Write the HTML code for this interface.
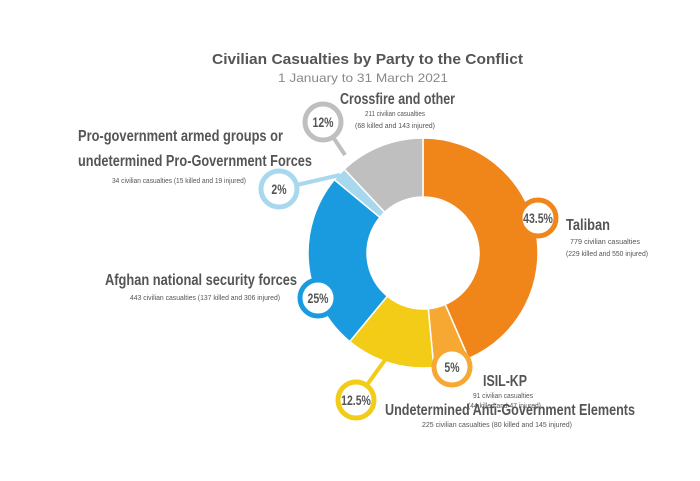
<!DOCTYPE html>
<html><head><meta charset="utf-8"><style>
body{margin:0;background:#fff;}
svg text{font-family:"Liberation Sans",sans-serif;fill:#555;}
</style></head><body>
<svg width="700" height="476" viewBox="0 0 700 476">
<text x="212" y="64" textLength="311" lengthAdjust="spacingAndGlyphs" font-size="15" font-weight="bold">Civilian Casualties by Party to the Conflict</text>
<text x="278" y="82" textLength="170" lengthAdjust="spacingAndGlyphs" font-size="12" style="fill:#888">1 January to 31 March 2021</text>
<g id="slices"></g>
<g id="callouts"></g>
</svg>
<script>
const categories=["Taliban","ISIL-KP","Undetermined Anti-Government Elements","Afghan national security forces","Pro-government armed groups or undetermined Pro-Government Forces","Crossfire and other"];
const shares=[43.5,5,12.5,25,2,12];
const shareLabels=["43.5%","5%","12.5%","25%","2%","12%"];
const colors=["#f08519","#f7a833","#f2cc16","#1a9be0","#a8d8ee","#bfbfbf"];
const ns="http://www.w3.org/2000/svg";
const cx=423,cy=253,R=115,r=56;
const total=shares.reduce((a,b)=>a+b,0);
function pt(rad,f){const a=f*2*Math.PI-Math.PI/2;return [cx+rad*Math.cos(a),cy+rad*Math.sin(a)];}
const g=document.getElementById('slices');
let acc=0;
shares.forEach((v,i)=>{
 const f0=acc/total,f1=(acc+v)/total;acc+=v;
 const [x0,y0]=pt(R,f0),[x1,y1]=pt(R,f1),[x2,y2]=pt(r,f1),[x3,y3]=pt(r,f0);
 const lg=(f1-f0)>0.5?1:0;
 const p=document.createElementNS(ns,'path');
 p.setAttribute('d',`M${x0},${y0}A${R},${R} 0 ${lg} 1 ${x1},${y1}L${x2},${y2}A${r},${r} 0 ${lg} 0 ${x3},${y3}Z`);
 p.setAttribute('fill',colors[i]);p.setAttribute('stroke','#fff');p.setAttribute('stroke-width','1.5');
 
 
 g.appendChild(p);
});
const circ=[[538,218],[452,367],[356,400],[318,298],[279,189],[323,122]];
const edge=[[520,218],[445,352],[385,360],[335,298],[340,175],[345,155]];
const c=document.getElementById('callouts');
circ.forEach((q,i)=>{
 const l=document.createElementNS(ns,'line');
 l.setAttribute('x1',q[0]);l.setAttribute('y1',q[1]);l.setAttribute('x2',edge[i][0]);l.setAttribute('y2',edge[i][1]);
 l.setAttribute('stroke',colors[i]);l.setAttribute('stroke-width','4');
 
 
 c.appendChild(l);
 const ci=document.createElementNS(ns,'circle');
 ci.setAttribute('cx',q[0]);ci.setAttribute('cy',q[1]);ci.setAttribute('r',18);
 ci.setAttribute('fill','#fff');ci.setAttribute('stroke',colors[i]);ci.setAttribute('stroke-width','5');
 
 
 c.appendChild(ci);
 const t=document.createElementNS(ns,'text');
 t.setAttribute('x',q[0]);t.setAttribute('y',q[1]+5);t.setAttribute('text-anchor','middle');
 t.setAttribute('font-size',14);t.setAttribute('font-weight','bold');
 t.setAttribute('transform',`translate(${q[0]},0) scale(0.75,1) translate(${-q[0]},0)`);
 t.textContent=shareLabels[i];
 
 
 c.appendChild(t);
});
// [x(left), y, size, text, width, bold]
const labels=[
 [[566,230,16,"Taliban",44,1],[570,244,7,"779 civilian casualties",70,0],[566,256,7,"(229 killed and 550 injured)",82,0]],
 [[483,386,16,"ISIL-KP",44,1],[473,398,7,"91 civilian casualties",60,0],[468,408,7,"(44 killed and 47 injured)",73,0]],
 [[385,415,16,"Undetermined Anti-Government Elements",250,1],[422,427,7,"225 civilian casualties (80 killed and 145 injured)",150,0]],
 [[105,285,16,"Afghan national security forces",192,1],[130,300,7,"443 civilian casualties (137 killed and 306 injured)",150,0]],
 [[78,141,16,"Pro-government armed groups or",205,1],[78,166,16,"undetermined Pro-Government Forces",234,1],[112,183,7,"34 civilian casualties (15 killed and 19 injured)",134,0]],
 [[340,104,16,"Crossfire and other",115,1],[365,116,7,"211 civilian casualties",60,0],[355,128,7,"(68 killed and 143 injured)",80,0]]
];
labels.forEach((set,i)=>set.forEach((L,j)=>{
 const t=document.createElementNS(ns,'text');
 t.setAttribute('x',L[0]);t.setAttribute('y',L[1]);t.setAttribute('font-size',L[2]);
 t.setAttribute('textLength',L[4]);t.setAttribute('lengthAdjust','spacingAndGlyphs');
 if(L[5])t.setAttribute('font-weight','bold');
 t.textContent=L[3];
 
 
 c.appendChild(t);
}));
</script>
</body></html>
